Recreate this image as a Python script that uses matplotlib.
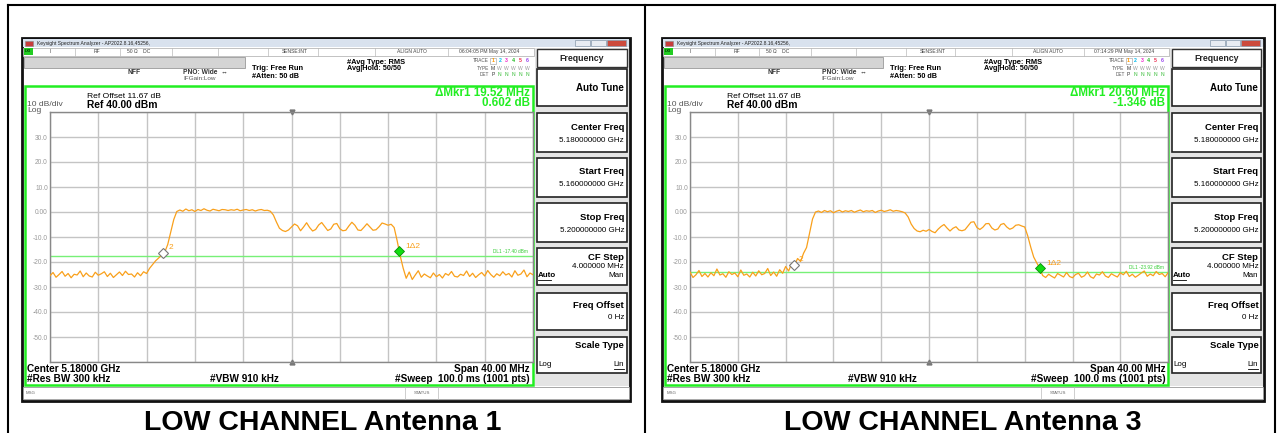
import numpy as np
import matplotlib.pyplot as plt
from matplotlib.patches import Rectangle

plt.rcParams['font.family'] = ['Liberation Sans', 'DejaVu Sans']

W, H = 1281, 433

# ---- data ----
captions = ['LOW CHANNEL Antenna 1', 'LOW CHANNEL Antenna 3']
timestamps = ['06:04:05 PM May 14, 2024', '07:14:29 PM May 14, 2024']
delta_freq = ['19.52 MHz', '20.60 MHz']
delta_level = ['0.602 dB', '-1.346 dB']
dl_level = [-17.40, -23.92]
dl_text = ['DL1 -17.40 dBm', 'DL1 -23.92 dBm']
mkr1_freq = [5188.90, 5189.29]
mkr1_level = [-15.6, -22.4]
mkr2_freq = [5169.38, 5168.69]
mkr2_level = [-16.2, -21.05]

# trace levels in dBm, 0.25 MHz steps from 5160 to 5200 MHz
trace_ant1 = [
    -25.5, -24.2, -26.1, -25.0, -23.8, -25.7, -24.6, -26.3, -24.9, -25.2,
    -23.6, -25.9, -24.4, -25.6, -26.0, -24.1, -25.3, -24.7, -23.9, -25.8,
    -24.5, -26.2, -25.1, -24.0, -25.4, -23.7, -25.0, -24.8, -26.0, -24.3,
    -25.5, -23.9, -24.6,
    -22.5, -21.0, -19.5, -18.4, -17.2, -16.1, -13.0, -8.0, -3.0, 0.2,
    0.8, 0.3, 1.2, 0.5, 0.9, 0.2, 1.0, 0.6, 1.3, 0.7,
    0.4, 1.1, 0.8, 0.5, 1.0, 0.9, 0.6, 0.9, 0.7, 1.1,
    0.5, 0.8, 1.0, 0.6, 0.9, 0.4, 0.8, 1.0, 0.6, 0.7, 0.3,
    -1.2, -4.0, -6.5, -7.4,
    -7.8, -7.2, -6.0, -4.8, -5.5, -7.5, -6.0, -4.3, -6.2, -7.6,
    -7.0, -5.2, -4.2, -5.8, -7.4, -6.8, -4.9, -4.6, -6.7, -7.5,
    -7.3, -5.6, -4.1, -5.3, -7.2, -7.4, -6.1, -4.7, -6.0, -7.3,
    -7.1, -5.9, -4.4, -4.8, -5.3, -4.9, -6.2,
    -11.5, -17.5, -22.5, -26.5,
    -24.0, -27.0, -25.2, -23.5, -26.1, -24.8, -25.6, -26.3, -24.4, -25.9,
    -25.0, -26.4, -24.6, -25.3, -23.8, -25.7, -26.0, -24.9, -25.4, -23.6,
    -25.8, -24.5, -26.2, -25.1, -24.2, -25.6, -23.4, -25.0, -26.1, -24.7,
    -25.5, -23.9, -25.2, -24.6, -26.0, -23.5, -25.3, -24.8, -23.2, -25.9,
    -24.4, -25.1,
]
trace_ant3 = [
    -24.0, -26.2, -25.1, -23.4, -25.8, -24.6, -26.0, -24.3, -25.5, -22.8,
    -25.2, -24.7, -26.1, -23.9, -25.0, -24.4, -25.9, -23.2, -25.3, -24.8,
    -26.0, -24.1, -25.6, -23.5, -25.1, -24.6, -22.6, -25.4, -24.0, -25.7,
    -23.1, -24.5,
    -21.8, -23.6, -20.6, -21.2, -18.6, -19.8, -16.5, -14.2, -8.5, -2.8, 0.0,
    0.4, -0.2, 0.6, 0.1, 0.5, -0.3, 0.3, 0.7, 0.0, 0.5,
    0.2, 0.6, -0.1, 0.4, 0.8, 0.1, 0.5, 0.3, 0.6, -0.2,
    0.4, 0.7, 0.2, 0.5, 0.9, 0.3, 0.6, 0.4, 0.1, -0.4,
    -2.0, -4.8, -6.6, -7.6,
    -7.9, -7.3, -7.7, -7.0, -7.8, -8.3, -6.9, -5.8, -5.0, -6.4,
    -7.6, -6.5, -5.9, -7.2, -7.5, -7.1, -5.6, -4.1, -3.9, -6.2,
    -7.0, -6.1, -4.7, -4.6, -6.4, -7.2, -6.8, -5.0, -4.6, -6.0,
    -6.9, -6.4, -5.3, -5.1, -5.6,
    -6.0, -9.5, -14.0, -18.0, -20.3, -22.4, -25.4,
    -26.2, -24.9, -25.7, -26.4, -24.6, -25.3, -26.0, -24.2, -25.8, -26.3,
    -25.0, -24.5, -26.1, -25.5, -24.0, -25.9, -26.5, -24.8, -25.2, -23.9,
    -25.6, -26.2, -24.7, -25.4, -26.0, -24.3, -25.1, -23.7, -25.8, -24.9,
    -26.1, -25.3, -24.4, -23.6, -25.7, -24.8, -25.5, -23.8, -25.0, -24.6,
    -25.9, -24.2,
]
traces = [trace_ant1, trace_ant3]

y_ticks = [40, 30, 20, 10, 0, -10, -20, -30, -40, -50, -60]
y_tick_labels = ['', '30.0', '20.0', '10.0', '0.00', '-10.0', '-20.0',
                 '-30.0', '-40.0', '-50.0', '']
x_ticks = [5160, 5164, 5168, 5172, 5176, 5180, 5184, 5188, 5192, 5196, 5200]

softkeys = [('Center Freq', '5.180000000 GHz', 113, 152),
            ('Start Freq', '5.160000000 GHz', 158, 197),
            ('Stop Freq', '5.200000000 GHz', 203, 242)]

# grid left edge in px and horizontal scale for each screenshot
panel_x0 = [50, 690]
panel_s = [1.0, 0.99]
caption_x = [323, 963]

TRACE_C = '#f9a01b'
GREEN = '#22ee22'

fig = plt.figure(figsize=(W / 100, H / 100), dpi=100)
bg = fig.add_axes([0, 0, 1, 1])
bg.set_xlim(0, W)
bg.set_ylim(H, 0)
bg.axis('off')

# table borders
for x in [8, 645, 1275]:
    bg.plot([x, x], [5, H], color='black', lw=1.5)
bg.plot([8, 1275], [5, 5], color='black', lw=1.5)


def draw_panel(k):
    gx, s = panel_x0[k], panel_s[k]

    def px(x):
        return gx + s * (x - 50)

    def rect(x0, y0, x1, y1, **kw):
        bg.add_patch(Rectangle((px(x0), y0), s * (x1 - x0), y1 - y0, **kw))

    def txt(x, y, t, size=5, weight='normal', color='black', ha='left', **kw):
        bg.text(px(x), y, t, size=size, weight=weight, color=color, ha=ha,
                va='center', **kw)

    # window frame
    rect(22, 38, 630, 401, fc='white', ec='#111111', lw=2)
    rect(23, 39, 629, 47, fc='#d9e2ee', ec='none')
    rect(25, 40.5, 33, 46, fc='#c83c3c', ec='#888888', lw=0.4)
    txt(37, 43.3, 'Keysight Spectrum Analyzer - AP2022.8.16,45256,', 3.6, color='#222222')
    rect(575, 40, 590, 46, fc='#e8ecf2', ec='#8899aa', lw=0.5)
    rect(591, 40, 606, 46, fc='#e8ecf2', ec='#8899aa', lw=0.5)
    rect(607, 40, 626, 46, fc='#cc4a3c', ec='#8899aa', lw=0.5)

    # status row
    rect(23, 47.5, 534, 55.5, fc='white', ec='#aaaaaa', lw=0.5)
    rect(23.5, 48, 33, 55, fc='#22cc22', ec='none')
    txt(24.5, 51.5, 'LXI', 2.8, weight='bold', color='#003300')
    for x in [75, 120, 172, 218, 268, 318, 375, 448]:
        bg.plot([px(x), px(x)], [47.5, 55.5], color='#bbbbbb', lw=0.5)
    txt(50, 51.5, 'I', 3.6, color='#444444')
    txt(97, 51.5, 'RF', 3.6, color='#444444', ha='center')
    txt(127, 51.5, '50 Ω    DC', 3.6, color='#444444')
    txt(295, 51.5, 'SENSE:INT', 3.6, color='#444444', ha='center')
    txt(412, 51.5, 'ALIGN AUTO', 3.6, color='#444444', ha='center')
    txt(489, 51.5, timestamps[k], 3.6, color='#444444', ha='center')

    # setup info
    rect(24, 57, 245, 68, fc='#d4d4d4', ec='#999999', lw=0.6)
    txt(128, 72, 'NFF', 4.8, weight='bold', color='#333333')
    txt(183, 72, 'PNO: Wide  ↔', 4.8, weight='bold', color='#333333')
    txt(183, 79, 'IFGain:Low', 4.6, color='#555555')
    txt(252, 69, 'Trig: Free Run', 5.4, weight='bold')
    txt(252, 77, '#Atten: 50 dB', 5.2, weight='bold')
    txt(347, 62, '#Avg Type: RMS', 5.4, weight='bold')
    txt(347, 69, 'Avg|Hold: 50/50', 5.2, weight='bold')
    txt(489, 61, 'TRACE', 3.4, color='#555555', ha='right')
    txt(489, 68, 'TYPE', 3.4, color='#555555', ha='right')
    txt(489, 75, 'DET', 3.4, color='#555555', ha='right')
    rect(490, 58, 496, 64, fc='white', ec='#999999', lw=0.4)
    for i, c in enumerate(['#ff9900', '#00bbee', '#ee22cc', '#22bb22', '#ee3355', '#9944ee']):
        txt(493 + 6.8 * i, 61, str(i + 1), 3.8, weight='bold', color=c, ha='center')
        txt(493 + 6.8 * i, 68, 'M' if i == 0 else 'W', 3.6, color='#333333' if i == 0 else '#999999', ha='center')
        txt(493 + 6.8 * i, 75, 'P' if i == 0 else 'N', 3.6, color='#333333' if i == 0 else '#33bb33', ha='center')

    # softkey panel
    rect(535, 48, 629, 386, fc='#e4e4e4', ec='none')
    rect(537, 49, 627, 67, fc='white', ec='#333333', lw=1)
    txt(582, 58.5, 'Frequency', 6.3, weight='bold', color='#222222', ha='center')
    rect(537, 69, 627, 106, fc='white', ec='#222222', lw=1.2)
    txt(624, 88, 'Auto Tune', 7, weight='bold', ha='right')
    for title, val, y0, y1 in softkeys:
        rect(537, y0, 627, y1, fc='white', ec='#222222', lw=1.2)
        txt(624, y0 + 14, title, 6.8, weight='bold', ha='right')
        txt(624, y0 + 27, val, 5.8, ha='right')
    rect(537, 248, 627, 285, fc='white', ec='#222222', lw=1.2)
    txt(624, 257, 'CF Step', 6.8, weight='bold', ha='right')
    txt(624, 266, '4.000000 MHz', 5.8, ha='right')
    txt(538, 275.5, 'Auto', 5.8, weight='bold')
    bg.plot([px(538), px(551)], [279.5, 279.5], color='black', lw=0.6)
    txt(624, 275.5, 'Man', 5.8, ha='right')
    rect(537, 293, 627, 330, fc='white', ec='#222222', lw=1.2)
    txt(624, 305, 'Freq Offset', 6.8, weight='bold', ha='right')
    txt(624, 317.5, '0 Hz', 5.8, ha='right')
    rect(537, 337, 627, 373, fc='white', ec='#222222', lw=1.2)
    txt(624, 346, 'Scale Type', 6.8, weight='bold', ha='right')
    txt(538, 365, 'Log', 5.8)
    txt(624, 365, 'Lin', 5.8, ha='right')
    bg.plot([px(614), px(624)], [369, 369], color='black', lw=0.6)

    # measurement window
    rect(25, 86, 533, 385, fc='white', ec=GREEN, lw=1.8, zorder=1)
    txt(87, 97, 'Ref Offset 11.67 dB', 6.1)
    txt(87, 104.5, 'Ref 40.00 dBm', 7.4, weight='bold')
    txt(27, 104.5, '10 dB/div', 6.1, color='#555555')
    txt(27, 110.5, 'Log', 6.1, color='#555555')
    txt(530, 93, 'ΔMkr1 ' + delta_freq[k], 8.4, weight='bold', color=GREEN, ha='right')
    txt(530, 103.5, delta_level[k], 8.4, weight='bold', color=GREEN, ha='right')
    txt(27, 368.5, 'Center 5.18000 GHz', 7.2, weight='bold')
    txt(27, 378.5, '#Res BW 300 kHz', 7.2, weight='bold')
    txt(210, 378.5, '#VBW 910 kHz', 7.2, weight='bold')
    txt(530, 368.5, 'Span 40.00 MHz', 7.2, weight='bold', ha='right')
    txt(530, 378.5, '#Sweep  100.0 ms (1001 pts)', 7.2, weight='bold', ha='right')

    # message bar
    rect(23, 387, 629, 399, fc='white', ec='#999999', lw=0.6)
    txt(26, 393, 'MSG', 3.2, color='#666666')
    bg.plot([px(405), px(405)], [387, 399], color='#bbbbbb', lw=0.5)
    bg.plot([px(438), px(438)], [387, 399], color='#bbbbbb', lw=0.5)
    txt(421.5, 393, 'STATUS', 3.2, color='#666666', ha='center')

    # caption
    bg.text(caption_x[k], 429.5, captions[k], size=20.5, weight='bold',
            ha='center', va='baseline')

    # spectrum graticule
    gw = 483 * s
    ax = fig.add_axes([gx / W, 1 - 362 / H, gw / W, 250 / H])
    ax.set_facecolor('white')
    ax.set_xlim(5160, 5200)
    ax.set_ylim(-60, 40)
    ax.set_xticks(x_ticks)
    ax.set_xticklabels([])
    ax.set_yticks(y_ticks)
    ax.set_yticklabels(y_tick_labels)
    ax.tick_params(length=0, labelsize=4.8, labelcolor='#999999', pad=1.5)
    ax.grid(True, color='#c4c4c4', lw=1)
    for sp in ax.spines.values():
        sp.set_color('#888888')
        sp.set_linewidth(1)
    ax.plot([5180], [40], marker='v', ms=3.5, color='#777777', clip_on=False)
    ax.plot([5180], [-60], marker='^', ms=3.5, color='#777777', clip_on=False)

    level = traces[k]
    freq = np.linspace(5160, 5200, len(level))
    ax.plot(freq, level, color=TRACE_C, lw=0.9, zorder=3)

    ax.axhline(dl_level[k], color='#77f077', lw=1, zorder=2)
    ax.text(5199.6, dl_level[k] + 0.6, dl_text[k], size=3.4, color='#33cc33',
            ha='right', va='bottom')

    ax.plot([mkr2_freq[k]], [mkr2_level[k]], 'D', ms=5, mfc='white',
            mec='#777777', mew=0.8, zorder=4)
    ax.annotate('2', (mkr2_freq[k], mkr2_level[k]), xytext=(3.5, 2.5),
                textcoords='offset points', size=6, color=TRACE_C)
    ax.plot([mkr1_freq[k]], [mkr1_level[k]], 'D', ms=5.5, mfc='#11dd11',
            mec='#0a8a0a', mew=0.6, zorder=4)
    ax.annotate('1Δ2', (mkr1_freq[k], mkr1_level[k]), xytext=(4.5, 2),
                textcoords='offset points', size=6, color=TRACE_C)


for k in range(2):
    draw_panel(k)

fig.savefig('out.png', dpi=100)
